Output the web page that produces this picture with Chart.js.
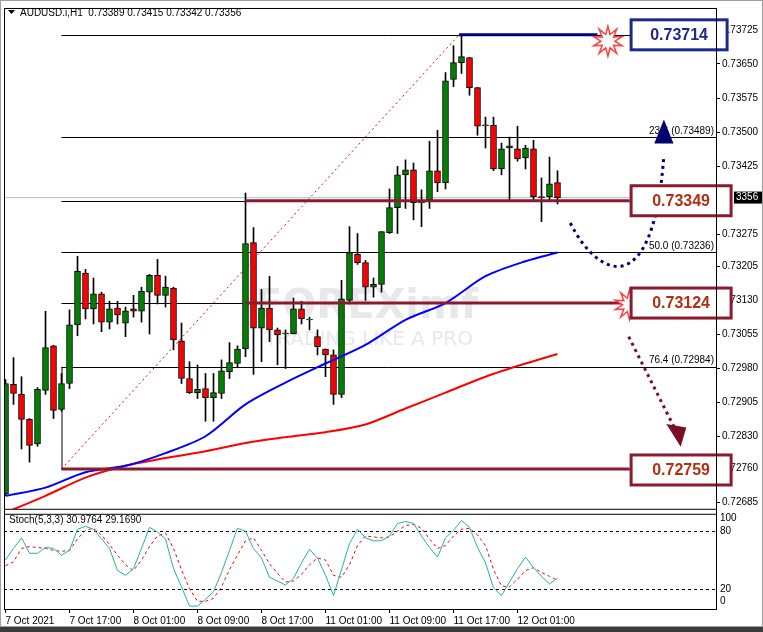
<!DOCTYPE html>
<html>
<head>
<meta charset="utf-8">
<script src="https://cdn.jsdelivr.net/npm/chart.js@4.4.1/dist/chart.umd.min.js"></script>
<style>
  html, body { margin: 0; padding: 0; background: #fff; }
  #wrap { width: 763px; height: 632px; }
</style>
</head>
<body>
<div id="wrap"><canvas id="c" width="763" height="632"></canvas></div>
<script>
// AUDUSD.i H1 candles, 7 Oct 2021 -> 12 Oct 2021
const opens  = [0.72704,0.72945,0.72923,0.72868,0.72814,0.72932,0.73030,0.72890,0.72947,0.73076,
                0.73190,0.73111,0.73144,0.73082,0.73113,0.73080,0.73111,0.73106,0.73148,0.73185,
                0.73141,0.73157,0.73041,0.72958,0.72927,0.72936,0.72916,0.72925,0.72973,0.72991,
                0.73023,0.73257,0.73069,0.73113,0.73065,0.73056,0.73056,0.73111,0.73087,0.73050,
                0.73023,0.73010,0.72923,0.73130,0.73231,0.73213,0.73159,0.73165,0.73279,0.73334,
                0.73406,0.73417,0.73345,0.73351,0.73415,0.73388,0.73616,0.73653,0.73664,0.73598,
                0.73516,0.73515,0.73419,0.73465,0.73463,0.73443,0.73463,0.73358,0.73358,0.73389];
const closes = [0.72947,0.72925,0.72868,0.72811,0.72934,0.73026,0.72888,0.72947,0.73076,0.73194,
                0.73111,0.73144,0.73082,0.73111,0.73098,0.73107,0.73106,0.73150,0.73185,0.73141,
                0.73159,0.73043,0.72958,0.72927,0.72934,0.72916,0.72927,0.72975,0.72993,0.73023,
                0.73255,0.73069,0.73113,0.73065,0.73054,0.73058,0.73111,0.73089,0.73089,0.73028,
                0.73010,0.72923,0.73133,0.73235,0.73213,0.73159,0.73165,0.73281,0.73334,0.73406,
                0.73417,0.73345,0.73347,0.73415,0.73388,0.73613,0.73653,0.73666,0.73598,0.73513,
                0.73514,0.73419,0.73463,0.73470,0.73441,0.73465,0.73358,0.73356,0.73386,0.73356];
const highs  = [0.72956,0.73004,0.72962,0.72870,0.72938,0.73106,0.73031,0.72969,0.73109,0.73227,
                0.73198,0.73179,0.73148,0.73128,0.73128,0.73115,0.73141,0.73159,0.73187,0.73220,
                0.73183,0.73159,0.73080,0.72995,0.72988,0.72969,0.72969,0.72999,0.73037,0.73030,
                0.73366,0.73290,0.73154,0.73183,0.73069,0.73065,0.73135,0.73128,0.73093,0.73065,
                0.73023,0.73021,0.73174,0.73292,0.73277,0.73218,0.73179,0.73281,0.73375,0.73425,
                0.73439,0.73432,0.73373,0.73480,0.73504,0.73631,0.73690,0.73714,0.73664,0.73598,
                0.73533,0.73533,0.73476,0.73489,0.73513,0.73471,0.73482,0.73399,0.73445,0.73415];
const lows   = [0.72700,0.72901,0.72803,0.72774,0.72809,0.72923,0.72870,0.72886,0.72936,0.73052,
                0.73089,0.73078,0.73061,0.73067,0.73078,0.73050,0.73093,0.73082,0.73056,0.73122,
                0.73115,0.73021,0.72947,0.72925,0.72914,0.72864,0.72864,0.72914,0.72958,0.72982,
                0.73006,0.72967,0.72995,0.73039,0.72988,0.72980,0.73056,0.73078,0.73065,0.73010,
                0.72962,0.72901,0.72916,0.73122,0.73209,0.73130,0.73137,0.73148,0.73277,0.73277,
                0.73332,0.73307,0.73292,0.73332,0.73369,0.73375,0.73600,0.73629,0.73581,0.73493,
                0.73465,0.73415,0.73406,0.73351,0.73436,0.73419,0.73351,0.73303,0.73351,0.73342];

// moving averages, read every 5 bars
const maIdx   = [0, 5, 10, 15, 20, 25, 30, 35, 40, 45, 50, 55, 60, 65, 69];
const blueMA  = [0.72700,0.72718,0.72752,0.72766,0.72794,0.72831,0.72901,0.72949,0.72991,0.73032,0.73087,0.73124,0.73183,0.73216,0.73235];
const redMA   = [0.72663,0.72700,0.72740,0.72766,0.72783,0.72798,0.72816,0.72829,0.72840,0.72857,0.72892,0.72927,0.72962,0.72991,0.73012];

// Stochastic (5,3,3)
const stochMain = [50,62,73,57,57,63,62,55,60,82,85,82,72,62,39,34,41,62,84,79,
                   72,41,22,2,2,9,17,37,60,83,80,62,52,32,28,24,31,47,61,52,
                   34,13,40,67,82,73,70,70,75,88,90,88,75,63,53,73,81,91,84,63,
                   47,21,13,27,41,53,42,33,25,31];
const stochSig  = [44,48,62,64,63,62,60,59,60,72,81,83,76,66,55,45,39,50,64,75,
                   78,62,40,20,7,7,10,22,40,55,70,73,60,46,36,27,28,35,45,52,
                   50,34,32,45,65,75,74,73,74,80,86,87,83,72,62,65,75,82,83,76,
                   65,40,23,22,30,39,42,37,33,29];

const xLabels = ['7 Oct 2021','7 Oct 17:00','8 Oct 01:00','8 Oct 09:00','8 Oct 17:00',
                 '11 Oct 01:00','11 Oct 09:00','11 Oct 17:00','12 Oct 01:00'];
const priceTicks = [0.73725,0.73650,0.73575,0.73500,0.73425,0.73275,0.73205,0.73130,
                    0.73055,0.72980,0.72905,0.72830,0.72760,0.72685];
const fibLevels = [0.73714,0.73489,0.73349,0.73236,0.73124,0.72984,0.72759];
const fibNames  = ['', '23.6', '', '50.0', '', '76.4', ''];
const keyLevels = [0.73714,0.73349,0.73124,0.72759];
const stochLevels = [80, 20];

const bodies = opens.map((o, i) => ({ x: i, y: o === closes[i] ? [o, o + 0.00001] : [o, closes[i]] }));
const wicks  = highs.map((h, i) => ({ x: i, y: [lows[i], h] }));
const bodyColors = opens.map((o, i) => closes[i] >= o ? '#008000' : '#ff0000');

const FONT = '"Liberation Sans", Arial, sans-serif';

function star(ctx, cx, cy, r1, r2, n) {
  ctx.beginPath();
  for (let i = 0; i < n * 2; i++) {
    const r = i % 2 ? r2 : r1;
    const a = Math.PI * i / n - Math.PI / 2;
    ctx.lineTo(cx + r * Math.cos(a), cy + r * Math.sin(a));
  }
  ctx.closePath();
  ctx.fillStyle = '#fff';
  ctx.fill();
  ctx.strokeStyle = '#ff4040';
  ctx.lineWidth = 1.5;
  ctx.stroke();
}

const decor = {
  id: 'decor',
  beforeDatasetsDraw(chart) {
    const { ctx, chartArea: a, scales } = chart;
    const X = v => scales.x.getPixelForValue(v), Y = v => scales.y.getPixelForValue(v);
    const S = v => scales.ys.getPixelForValue(v);
    ctx.save();
    // watermark
    ctx.fillStyle = 'rgba(120,120,150,0.18)';
    ctx.font = 'bold 40px "DejaVu Sans", sans-serif';
    ctx.fillText('FOREXimf', 255, 318);
    ctx.font = '20px "DejaVu Sans", sans-serif';
    ctx.fillText('TRADING LIKE A PRO', 265, 345);
    // current price line
    ctx.strokeStyle = '#c0c0c0'; ctx.lineWidth = 1;
    ctx.beginPath(); ctx.moveTo(a.left, Y(0.73356)); ctx.lineTo(a.right, Y(0.73356)); ctx.stroke();
    // fib lines
    ctx.strokeStyle = '#000';
    fibLevels.forEach(l => {
      ctx.beginPath(); ctx.moveTo(X(7), Math.round(Y(l)) + 0.5); ctx.lineTo(a.right, Math.round(Y(l)) + 0.5); ctx.stroke();
    });
    ctx.beginPath(); ctx.moveTo(X(7) + 0.5, Y(0.72984)); ctx.lineTo(X(7) + 0.5, Y(0.72759)); ctx.stroke();
    ctx.strokeStyle = '#ff0000'; ctx.setLineDash([2, 3]);
    ctx.beginPath(); ctx.moveTo(X(7), Y(0.72759)); ctx.lineTo(X(56.7), Y(0.73714)); ctx.stroke();
    ctx.setLineDash([]);
    // stoch levels
    ctx.strokeStyle = '#000'; ctx.setLineDash([3, 3]);
    stochLevels.forEach(l => {
      ctx.beginPath(); ctx.moveTo(a.left, Math.round(S(l)) + 0.5); ctx.lineTo(a.right, Math.round(S(l)) + 0.5); ctx.stroke();
    });
    ctx.setLineDash([]);
    ctx.restore();
  },
  afterDatasetsDraw(chart) {
    const { ctx, chartArea: a, scales } = chart;
    const X = v => scales.x.getPixelForValue(v), Y = v => scales.y.getPixelForValue(v);
    ctx.save();
    // key level lines
    ctx.lineWidth = 3;
    ctx.strokeStyle = '#8b1a2e';
    [[30, 0.73349], [30, 0.73124], [7, 0.72759]].forEach(([k, p]) => {
      ctx.beginPath(); ctx.moveTo(X(k), Y(p)); ctx.lineTo(X(78), Y(p)); ctx.stroke();
    });
    ctx.strokeStyle = '#000080';
    ctx.beginPath(); ctx.moveTo(X(56.7), Y(0.73714)); ctx.lineTo(X(74), Y(0.73714)); ctx.stroke();
    // fib labels
    ctx.fillStyle = '#000'; ctx.font = '10px ' + FONT; ctx.textAlign = 'right'; ctx.textBaseline = 'bottom';
    fibLevels.forEach((l, i) => {
      if (fibNames[i]) ctx.fillText(fibNames[i] + ' (' + l.toFixed(5) + ')', a.right - 2, Y(l) - 1);
    });
    // dotted arrows
    ctx.lineWidth = 3; ctx.setLineDash([3, 4]);
    ctx.strokeStyle = '#00006e';
    ctx.beginPath(); ctx.moveTo(X(70.6), Y(0.73300));
    ctx.bezierCurveTo(X(74), Y(0.73180), X(81), Y(0.73120), X(82.3), Y(0.73450)); ctx.stroke();
    ctx.strokeStyle = '#7a1028';
    ctx.beginPath(); ctx.moveTo(X(77.9), Y(0.73050)); ctx.lineTo(X(83.6), Y(0.72850)); ctx.stroke();
    ctx.setLineDash([]);
    ctx.fillStyle = '#00006e';
    ctx.beginPath(); ctx.moveTo(X(82.3), Y(0.73528)); ctx.lineTo(X(81.1), Y(0.73475)); ctx.lineTo(X(83.5), Y(0.73475)); ctx.fill();
    ctx.fillStyle = '#7a1028';
    ctx.beginPath(); ctx.moveTo(X(84.4), Y(0.72808)); ctx.lineTo(X(82.6), Y(0.72858)); ctx.lineTo(X(85.1), Y(0.72850)); ctx.fill();
    // starbursts
    star(ctx, X(75.3), Y(0.73700), 15, 7, 10);
    star(ctx, X(78), Y(0.73120), 15, 7, 10);
    // level boxes
    ctx.font = 'bold 16px ' + FONT; ctx.textAlign = 'center'; ctx.textBaseline = 'middle';
    keyLevels.forEach((l, i) => {
      const blue = i === 0;
      const w = blue ? 96 : 100, h = 30, x0 = X(78.2), yc = Y(l) + (i === 3 ? 1 : 0);
      ctx.fillStyle = '#fff'; ctx.fillRect(x0, yc - h / 2, w, h);
      ctx.lineWidth = 3; ctx.strokeStyle = blue ? '#1e2a8a' : '#8b1a2e';
      ctx.strokeRect(x0, yc - h / 2, w, h);
      ctx.fillStyle = blue ? '#1e2a8a' : '#b03010';
      ctx.fillText(l.toFixed(5), x0 + w / 2, yc + 1);
    });
    // current price tag on axis
    ctx.fillStyle = '#000'; ctx.fillRect(734, Y(0.73356) - 6, 29, 12);
    ctx.fillStyle = '#fff'; ctx.font = '10px ' + FONT; ctx.textAlign = 'left';
    ctx.fillText('3356', 736, Y(0.73356));
    // panel frames
    ctx.lineWidth = 1; ctx.strokeStyle = '#000';
    ctx.strokeRect(a.left + 0.5, a.top + 0.5, a.right - a.left, a.bottom - a.top);
    ctx.fillStyle = '#fff'; ctx.fillRect(a.left + 1, Y(0.72667) - 1, a.right - a.left - 1, 4);
    ctx.beginPath(); ctx.moveTo(a.left, Y(0.72667) - 1.5); ctx.lineTo(a.right, Y(0.72667) - 1.5);
    ctx.moveTo(a.left, Y(0.72667) + 3.5); ctx.lineTo(a.right, Y(0.72667) + 3.5); ctx.stroke();
    // stoch axis labels
    ctx.fillStyle = '#000'; ctx.font = '10px ' + FONT; ctx.textAlign = 'left'; ctx.textBaseline = 'middle';
    [[100, 518], [80, 531], [20, 589], [0, 601]].forEach(([v, y]) => ctx.fillText(String(v), 720, y));
    // titles
    ctx.textBaseline = 'alphabetic';
    ctx.font = '10px ' + FONT;
    ctx.fillText('Stoch(5,3,3) ' + '30.9764 29.1690', 9, 523);
    ctx.fillText('AUDUSD.i,H1  0.73389 0.73415 0.73342 0.73356', 20, 16);
    ctx.beginPath(); ctx.moveTo(8, 10); ctx.lineTo(15, 10); ctx.lineTo(11.5, 14); ctx.fill();
    // window border
    ctx.fillStyle = '#3c3c3c'; ctx.fillRect(0, 627, 763, 5);
    ctx.strokeStyle = '#a0a0a0'; ctx.strokeRect(0.5, 0.5, 762, 626);
    ctx.restore();
  }
};

new Chart(document.getElementById('c'), {
  data: {
    datasets: [
      { type: 'bar', data: wicks, backgroundColor: '#000', barThickness: 1, grouped: false, order: 3, yAxisID: 'y' },
      { type: 'bar', data: bodies, backgroundColor: bodyColors, borderColor: '#000', borderWidth: 1,
        borderSkipped: false, barThickness: 6, grouped: false, order: 2, yAxisID: 'y' },
      { type: 'line', data: maIdx.map((k, i) => ({ x: k, y: blueMA[i] })), borderColor: '#0000ff', borderWidth: 2,
        pointRadius: 0, tension: 0.3, order: 1, yAxisID: 'y' },
      { type: 'line', data: maIdx.map((k, i) => ({ x: k, y: redMA[i] })), borderColor: '#ff0000', borderWidth: 2,
        pointRadius: 0, tension: 0.3, order: 1, yAxisID: 'y', clip: { left: 0, top: 0, right: 0, bottom: -100 } },
      { type: 'line', data: stochMain.map((v, i) => ({ x: i, y: v })), borderColor: '#20b2aa', borderWidth: 1,
        pointRadius: 0, order: 1, yAxisID: 'ys' },
      { type: 'line', data: stochSig.map((v, i) => ({ x: i, y: v })), borderColor: '#ff0000', borderWidth: 1,
        borderDash: [3, 3], pointRadius: 0, order: 1, yAxisID: 'ys' }
    ]
  },
  options: {
    responsive: false,
    animation: false,
    events: [],
    layout: { padding: { left: 4, top: 4, right: 0, bottom: 0 } },
    plugins: { legend: { display: false }, tooltip: { enabled: false } },
    scales: {
      x: {
        type: 'linear', min: -0.1875, max: 88.8125, offset: false,
        afterBuildTicks: s => { s.ticks = xLabels.map((_, i) => ({ value: i * 8 })); },
        afterFit: s => { s.height = 23; },
        ticks: { callback: v => xLabels[v / 8], align: 'start', maxRotation: 0, autoSkip: false,
                 color: '#000', font: { family: FONT, size: 10 }, padding: 2 },
        grid: { drawOnChartArea: false, tickLength: 4, color: '#000', offset: false },
        border: { color: '#000' }
      },
      y: {
        position: 'right', min: 0.72451, max: 0.73773,
        afterBuildTicks: s => { s.ticks = priceTicks.map(v => ({ value: v })); },
        afterFit: s => { s.width = 47; },
        ticks: { callback: v => v.toFixed(5), color: '#000', font: { family: FONT, size: 10 }, padding: 2 },
        grid: { drawOnChartArea: false, tickLength: 4, color: '#000' },
        border: { color: '#000' }
      },
      ys: { position: 'right', display: false, min: -1.03, max: 624.6 }
    }
  },
  plugins: [decor]
});
</script>
</body>
</html>
